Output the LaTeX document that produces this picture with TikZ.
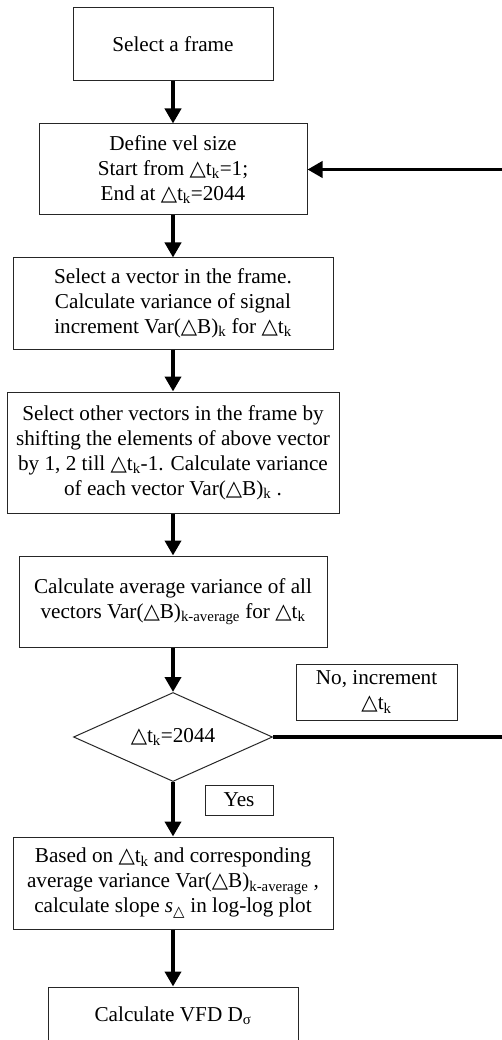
\documentclass[tikz,border=0pt]{standalone}
\usepackage{fontspec}
\setmainfont{Liberation Serif}
\newfontfamily\symfont{DejaVu Sans}
\usetikzlibrary{arrows.meta,shapes.geometric}
% white triangle used as the increment sign
\newcommand{\tri}{{\symfont\char"25B3}}
\newcommand{\sbk}[1]{\textsubscript{#1}}
\tikzset{
  stepbox/.style={draw=black!85, line width=1pt, rectangle, inner sep=0pt,
    align=center, font=\fontsize{21.2}{25}\selectfont},
  decision/.style={draw=black!85, line width=1pt, diamond, aspect=2.24, inner sep=0pt,
    align=center, font=\fontsize{21.2}{25}\selectfont},
  flow/.style={line width=3.8pt, -{Triangle[length=15pt,width=16pt]}},
}
\begin{document}
\begin{tikzpicture}[x=1pt,y=-1pt]
\useasboundingbox (0,0) rectangle (502,1040);
\clip (0,0) rectangle (502,1040);

\node[stepbox, minimum width=200pt, minimum height=73pt] (b1) at (173,44.5) {Select a frame};
\node[stepbox, minimum width=268pt, minimum height=91pt] (b2) at (173,169.5)
  {Define vel size\\Start from \tri t\sbk{k}=1;\\End at \tri t\sbk{k}=2044};
\node[stepbox, minimum width=320pt, minimum height=91pt] (b3) at (173,303.5)
  {Select a vector in the frame.\\Calculate variance of signal\\increment Var(\tri B)\sbk{k} for \tri t\sbk{k}};
\node[stepbox, minimum width=332pt, minimum height=121pt] (b4) at (173,452.5)
  {Select other vectors in the frame by\\shifting the elements of above vector\\by 1, 2 till \tri t\sbk{k}-1. Calculate variance\\of each vector Var(\tri B)\sbk{k} .};
\node[stepbox, minimum width=308pt, minimum height=91pt] (b5) at (173,601.5)
  {Calculate average variance of all\\vectors Var(\tri B)\sbk{k-average} for \tri t\sbk{k}};
\node[decision, minimum width=199pt, minimum height=89pt] (d) at (173,737) {\tri t\sbk{k}=2044};
\node[stepbox, minimum width=161pt, minimum height=56pt] (no) at (376.5,692) {No, increment\\\tri t\sbk{k}};
\node[stepbox, minimum width=68pt, minimum height=30pt] (yes) at (239,800) {Yes};
\node[stepbox, minimum width=320pt, minimum height=92pt] (b6) at (173,883)
  {Based on \tri t\sbk{k} and corresponding\\average variance Var(\tri B)\sbk{k-average} ,\\calculate slope \textit{s}\sbk{\tri} in log-log plot};
\node[stepbox, minimum width=250pt, minimum height=58pt] (b7) at (173,1016) {Calculate VFD D\sbk{σ}};

\draw[flow] (b1) -- (b2);
\draw[flow] (b2) -- (b3);
\draw[flow] (b3) -- (b4);
\draw[flow] (b4) -- (b5);
\draw[flow] (b5) -- (d);
\draw[flow] (d) -- (b6);
\draw[flow] (b6) -- (b7);
\coordinate (loop) at (512,737);
\draw[flow] (d.east) -- (loop) |- (b2.east);
\end{tikzpicture}
\end{document}
